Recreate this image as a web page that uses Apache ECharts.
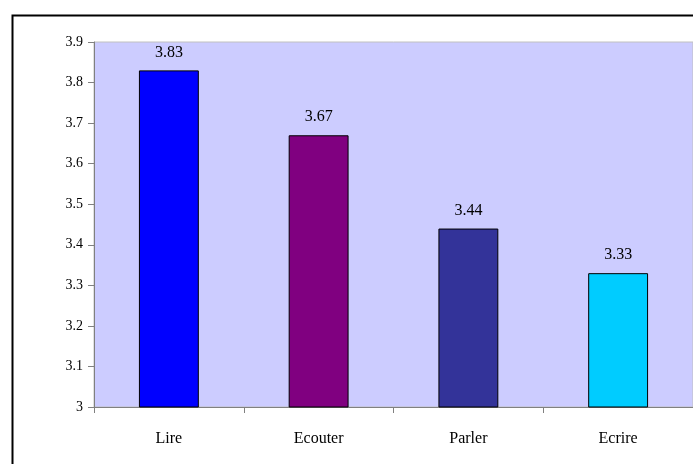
<!DOCTYPE html>
<html>
<head>
<meta charset="utf-8">
<script src="https://cdn.jsdelivr.net/npm/echarts@6/dist/echarts.min.js"></script>
<style>
  html, body { margin: 0; padding: 0; background: #fff; }
  #main { width: 693px; height: 464px; }
</style>
</head>
<body>
<div id="main"></div>
<script>
// données
const categories = ["Lire", "Ecouter", "Parler", "Ecrire"];
const scores = [3.83, 3.67, 3.44, 3.33];
const barColors = ["#0000FF", "#800080", "#333399", "#00CCFF"];

const myChart = echarts.init(document.getElementById("main"));

const option = {
  animation: false,
  textStyle: { fontFamily: "Liberation Serif" },
  graphic: [
    {
      type: "rect",
      shape: { x: 12.5, y: 15.5, width: 700, height: 470 },
      style: { fill: "none", stroke: "#000", lineWidth: 2 },
      silent: true
    }
  ],
  grid: {
    left: 94,
    top: 42,
    right: -1,
    bottom: 57,
    show: true,
    backgroundColor: "#CCCCFF",
    borderColor: "#c0c0c0",
    borderWidth: 1
  },
  xAxis: {
    type: "category",
    data: categories,
    axisLine: { lineStyle: { color: "#808080", width: 1 } },
    axisTick: { show: true, length: 6, lineStyle: { color: "#808080" } },
    axisLabel: { color: "#000", fontSize: 16, margin: 24, fontFamily: "Liberation Serif" }
  },
  yAxis: {
    type: "value",
    min: 3,
    max: 3.9,
    interval: 0.1,
    axisLine: { show: true, lineStyle: { color: "#808080", width: 1 } },
    axisTick: { show: true, length: 6, lineStyle: { color: "#808080" } },
    splitLine: { show: false },
    axisLabel: {
      color: "#000",
      fontSize: 14,
      margin: 11,
      fontFamily: "Liberation Serif",
      formatter: (v) => String(Math.round(v * 10) / 10)
    }
  },
  series: [
    {
      type: "bar",
      barWidth: "40%",
      data: scores.map((v, i) => ({
        value: v,
        itemStyle: { color: barColors[i], borderColor: "#000", borderWidth: 1 }
      })),
      label: {
        show: true,
        position: "top",
        distance: 10,
        color: "#000",
        fontSize: 16,
        fontFamily: "Liberation Serif",
        formatter: (p) => p.value.toFixed(2)
      }
    }
  ]
};

myChart.setOption(option);
</script>
</body>
</html>
